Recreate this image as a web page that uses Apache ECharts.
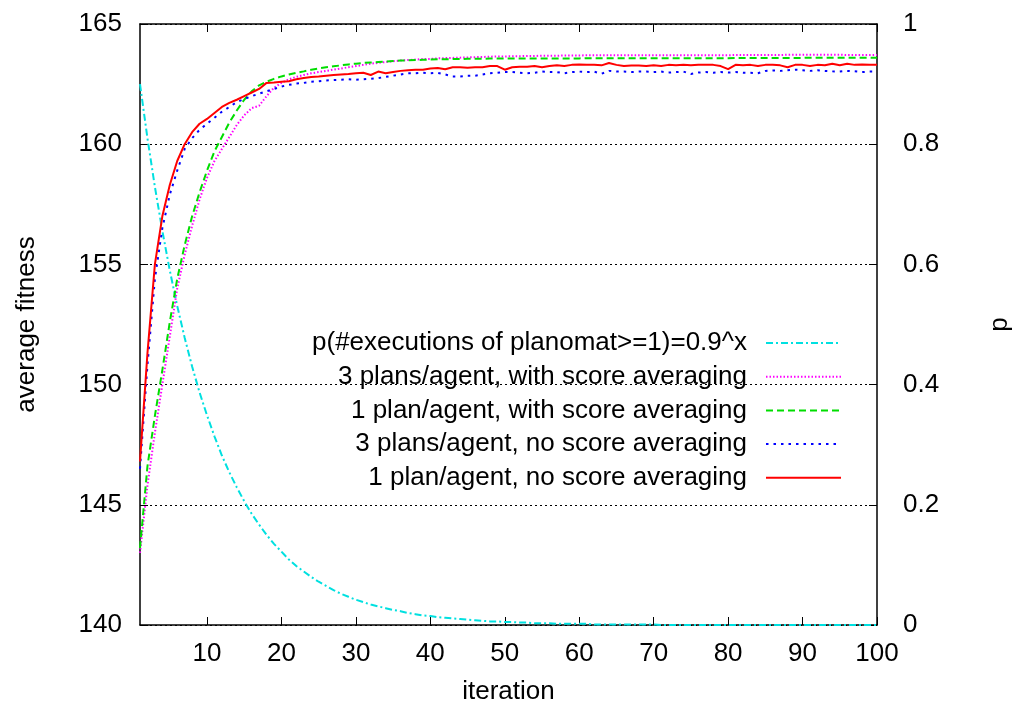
<!DOCTYPE html>
<html>
<head>
<meta charset="utf-8">
<script src="https://cdn.jsdelivr.net/npm/echarts@6/dist/echarts.min.js"></script>
<style>html,body{margin:0;padding:0;background:#fff}#c{width:1014px;height:713px}</style>
</head>
<body>
<div id="c"></div>
<script>
const xTicks = [10, 20, 30, 40, 50, 60, 70, 80, 90, 100];
const names = [
  'p(#executions of planomat>=1)=0.9^x',
  '3 plans/agent, with score averaging',
  '1 plan/agent, with score averaging',
  '3 plans/agent, no score averaging',
  '1 plan/agent, no score averaging'
];
const pExec = [
  0.9, 0.81, 0.729, 0.656, 0.590, 0.531, 0.478, 0.430, 0.387, 0.349,
  0.314, 0.282, 0.254, 0.229, 0.206, 0.185, 0.167, 0.150, 0.135, 0.122,
  0.109, 0.098, 0.089, 0.080, 0.072, 0.065, 0.058, 0.052, 0.047, 0.042,
  0.038, 0.034, 0.031, 0.028, 0.025, 0.023, 0.020, 0.018, 0.016, 0.015,
  0.013, 0.012, 0.011, 0.010, 0.009, 0.008, 0.007, 0.006, 0.006, 0.005,
  0.005, 0.004, 0.004, 0.003, 0.003, 0.003, 0.002, 0.002, 0.002, 0.002,
  0.002, 0.001, 0.001, 0.001, 0.001, 0.001, 0.001, 0.001, 0.001, 0.001,
  0, 0, 0, 0, 0, 0, 0, 0, 0, 0,
  0, 0, 0, 0, 0, 0, 0, 0, 0, 0,
  0, 0, 0, 0, 0, 0, 0, 0, 0, 0
];
const plans3Avg = [
  143.0, 145.8, 148.0, 150.0, 152.0, 154.0, 155.4, 156.6, 157.7, 158.6,
  159.3, 159.8, 160.3, 160.8, 161.2, 161.5, 161.6, 162.0, 162.35, 162.55,
  162.7, 162.8, 162.88, 162.95, 163.0, 163.05, 163.1, 163.15, 163.2, 163.25,
  163.3, 163.35, 163.38, 163.42, 163.45, 163.48, 163.5, 163.52, 163.54, 163.55,
  163.57, 163.58, 163.59, 163.6, 163.61, 163.62, 163.63, 163.64, 163.65, 163.65,
  163.66, 163.66, 163.67, 163.67, 163.68, 163.68, 163.68, 163.69, 163.69, 163.69,
  163.7, 163.7, 163.7, 163.7, 163.7, 163.7, 163.7, 163.7, 163.7, 163.7,
  163.7, 163.7, 163.7, 163.7, 163.7, 163.7, 163.7, 163.7, 163.7, 163.7,
  163.71, 163.71, 163.71, 163.71, 163.71, 163.71, 163.71, 163.72, 163.72, 163.72,
  163.72, 163.72, 163.72, 163.72, 163.72, 163.71, 163.71, 163.71, 163.71, 163.71
];
const plan1Avg = [
  143.2, 146.6, 148.7, 150.6, 152.6, 154.4, 155.8, 157.0, 158.0, 158.9,
  159.7, 160.3, 160.9, 161.4, 161.85, 162.2, 162.45, 162.6, 162.72, 162.82,
  162.9, 162.97, 163.03, 163.1, 163.15, 163.2, 163.24, 163.28, 163.32, 163.35,
  163.38, 163.4, 163.42, 163.44, 163.46, 163.48, 163.49, 163.5, 163.51, 163.52,
  163.53, 163.53, 163.54, 163.54, 163.55, 163.55, 163.55, 163.56, 163.56, 163.56,
  163.57, 163.57, 163.57, 163.57, 163.57, 163.57, 163.57, 163.57, 163.57, 163.57,
  163.58, 163.58, 163.58, 163.58, 163.58, 163.58, 163.58, 163.58, 163.58, 163.58,
  163.58, 163.58, 163.58, 163.58, 163.58, 163.58, 163.58, 163.58, 163.58, 163.58,
  163.59, 163.59, 163.59, 163.59, 163.59, 163.59, 163.59, 163.59, 163.59, 163.59,
  163.6, 163.6, 163.6, 163.6, 163.6, 163.6, 163.6, 163.6, 163.6, 163.6
];
const plans3NoAvg = [
  146.5, 150.8, 154.4, 156.5, 157.9, 158.9, 159.8, 160.25, 160.6, 160.85,
  161.1, 161.35, 161.55, 161.75, 161.88, 162.0, 162.1, 162.2, 162.3, 162.4,
  162.47, 162.52, 162.55, 162.6, 162.62, 162.65, 162.67, 162.68, 162.7, 162.68,
  162.7, 162.72, 162.75, 162.8, 162.85, 162.9, 162.95, 162.95, 162.97, 162.95,
  162.97, 162.9, 162.82, 162.82, 162.85, 162.85, 162.9, 162.95, 162.97, 163.0,
  163.0, 162.97, 162.95, 162.97, 163.02, 163.0, 163.0, 162.95, 163.0, 163.02,
  163.0, 163.02, 162.93, 163.05, 163.02, 163.02, 163.0, 163.02, 163.02, 163.0,
  163.02, 162.98, 163.0, 163.02, 162.92, 162.98, 163.0, 162.97, 163.0, 162.98,
  163.0, 162.97, 162.97, 162.95, 163.05, 163.07, 163.05, 163.08, 163.1, 163.08,
  163.05, 163.08, 163.05, 163.03, 163.02, 163.05, 163.03, 163.0, 163.02, 163.02
];
const plan1NoAvg = [
  146.8, 151.3, 155.0, 157.0, 158.3, 159.3, 160.0, 160.5, 160.85, 161.05,
  161.3, 161.55, 161.72, 161.85, 162.0, 162.15, 162.3, 162.55, 162.57, 162.6,
  162.62, 162.7, 162.75, 162.8, 162.82, 162.85, 162.88, 162.9, 162.92, 162.95,
  162.97, 162.88, 163.02, 162.95, 163.0, 163.05, 163.08, 163.1, 163.1, 163.15,
  163.17, 163.12, 163.2, 163.2, 163.18, 163.2, 163.2, 163.25, 163.25, 163.1,
  163.2, 163.22, 163.22, 163.25, 163.2, 163.25, 163.28, 163.25, 163.3, 163.32,
  163.3, 163.3, 163.28, 163.38, 163.3, 163.25, 163.27, 163.27, 163.25, 163.28,
  163.25, 163.3, 163.28, 163.3, 163.28, 163.3, 163.3, 163.3, 163.25, 163.12,
  163.3, 163.28, 163.3, 163.25, 163.3, 163.3, 163.28, 163.2, 163.3, 163.3,
  163.25, 163.3, 163.28, 163.35, 163.28, 163.35, 163.3, 163.32, 163.3, 163.3
];

const FONT = 'Liberation Sans';
const FS = 26;
const toPairs = arr => arr.map((v, i) => [i + 1, v]);

const chart = echarts.init(document.getElementById('c'), null, {renderer: 'canvas'});

function line(name, data, color, dash, yIdx) {
  return {
    name: name, type: 'line', data: toPairs(data), yAxisIndex: yIdx,
    showSymbol: false, symbol: 'none', animation: false,
    lineStyle: {color: color, width: 2, type: dash},
    itemStyle: {color: color},
    emphasis: {disabled: true}
  };
}

chart.setOption({
  backgroundColor: '#fff',
  animation: false,
  textStyle: {fontFamily: FONT},
  grid: {left: 140, right: 137, top: 24, bottom: 88, containLabel: false, outerBoundsMode: 'none'},
  legend: {
    orient: 'vertical', align: 'right', right: 167, top: 323,
    itemWidth: 75, itemHeight: 30, itemGap: 3.7,
    itemStyle: {opacity: 0, borderWidth: 0},
    textStyle: {fontSize: FS, fontFamily: FONT, color: '#000', lineHeight: 30, padding: [0, 14, 0, 0]},
    data: names
  },
  xAxis: [{
    type: 'value', min: 1, max: 100, position: 'bottom',
    name: 'iteration', nameLocation: 'middle', nameGap: 54,
    nameTextStyle: {fontSize: FS, fontFamily: FONT, color: '#000'},
    axisLine: {show: true, onZero: false, lineStyle: {color: '#000', width: 1.5}},
    axisTick: {show: true, inside: true, length: 8, customValues: xTicks, lineStyle: {color: '#000', width: 1}},
    axisLabel: {show: true, customValues: xTicks, margin: 16, fontSize: FS, fontFamily: FONT, color: '#000'},
    splitLine: {show: false}
  }, {
    type: 'value', min: 1, max: 100, position: 'top',
    axisLine: {show: true, onZero: false, lineStyle: {color: '#000', width: 1.5}},
    axisTick: {show: true, inside: true, length: 8, customValues: xTicks, lineStyle: {color: '#000', width: 1}},
    axisLabel: {show: false},
    splitLine: {show: false}
  }],
  yAxis: [{
    type: 'value', min: 140, max: 165, interval: 5, position: 'left',
    name: 'average fitness', nameLocation: 'middle', nameGap: 100, nameRotate: 90,
    nameTextStyle: {fontSize: FS, fontFamily: FONT, color: '#000'},
    axisLine: {show: true, onZero: false, lineStyle: {color: '#000', width: 1.5}},
    axisTick: {show: true, inside: true, length: 8, lineStyle: {color: '#000', width: 1}},
    axisLabel: {margin: 18, fontSize: FS, fontFamily: FONT, color: '#000'},
    splitLine: {show: true, lineStyle: {color: '#000', width: 1, type: [2, 3]}}
  }, {
    type: 'value', min: 0, max: 1, interval: 0.2, position: 'right',
    name: 'p', nameLocation: 'middle', nameGap: 110, nameRotate: 90,
    nameTextStyle: {fontSize: FS, fontFamily: FONT, color: '#000'},
    axisLine: {show: true, onZero: false, lineStyle: {color: '#000', width: 1.5}},
    axisTick: {show: true, inside: true, length: 8, lineStyle: {color: '#000', width: 1}},
    axisLabel: {margin: 26, fontSize: FS, fontFamily: FONT, color: '#000'},
    splitLine: {show: false}
  }],
  series: [
    line(names[0], pExec, '#00e0e0', [7, 3, 2, 3], 1),
    line(names[1], plans3Avg, '#ff00ff', [1.5, 2], 0),
    line(names[2], plan1Avg, '#00dd00', [7, 4], 0),
    line(names[3], plans3NoAvg, '#0000ff', [2.5, 5], 0),
    line(names[4], plan1NoAvg, '#ff0000', 'solid', 0)
  ]
});
</script>
</body>
</html>
